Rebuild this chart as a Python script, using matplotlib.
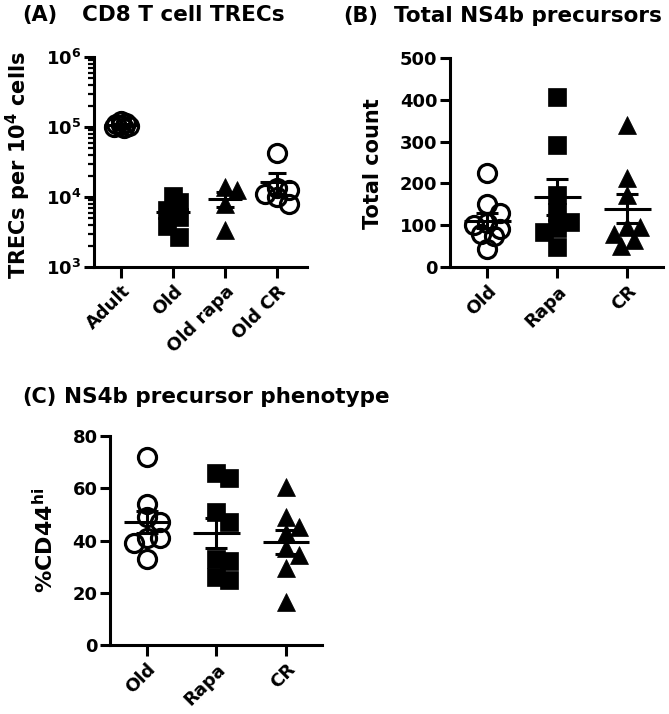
import numpy as np
import matplotlib
matplotlib.use("Agg")
import matplotlib.pyplot as plt
from matplotlib.ticker import LogLocator, NullFormatter, FixedLocator

plt.rcParams['font.family'] = 'DejaVu Sans'
plt.rcParams['font.weight'] = 'bold'
plt.rcParams['mathtext.fontset'] = 'dejavusans'
plt.rcParams['mathtext.default'] = 'bf'

# (A) CD8 T cell TRECs, per 10^4 cells
trec_groups = ["Adult", "Old", "Old rapa", "Old CR"]
trec_adult = [122000, 115000, 110000, 106000, 103000, 100000, 97000]
trec_old = [10500, 8500, 6500, 5200, 3800, 2700]
trec_old_rapa = [14000, 12500, 8000, 3400]
trec_old_cr = [43000, 13500, 12500, 11000, 10000, 8000]

# (B) Total NS4b precursors
ns4b_groups = ["Old", "Rapa", "CR"]
total_old = [225, 150, 128, 105, 100, 90, 80, 75, 42]
total_rapa = [407, 292, 172, 132, 108, 93, 84, 48]
total_cr = [340, 213, 172, 96, 95, 80, 65, 50]

# (C) NS4b precursor phenotype, %CD44hi
cd44_old = [72, 54, 49, 47, 41, 41, 39, 33]
cd44_rapa = [66, 64, 51, 47, 33, 32, 26, 25]
cd44_cr = [60.5, 49, 45, 43, 37, 34.5, 29.5, 16.5]

W, H = 669, 714
LW = 2.2


def px_axes(fig, left, top, right, bottom):
    return fig.add_axes([left / W, 1 - bottom / H, (right - left) / W, (bottom - top) / H])


def swarm(ax, x0, vals, dist_px, max_px):
    # spread points sideways in pixel space, GraphPad style
    ys = [ax.transData.transform((x0, v))[1] for v in vals]
    px_per_x = ax.transData.transform((1, 0))[0] - ax.transData.transform((0, 0))[0]
    step = dist_px / 2.0
    cands = [0.0]
    k = 1
    while k * step <= max_px:
        cands += [k * step, -k * step]
        k += 1
    offs = np.zeros(len(vals))
    placed = []
    for i in np.argsort(ys)[::-1]:
        best, best_d = 0.0, -1
        for c in cands:
            d = min([np.hypot(c - px, ys[i] - py) for px, py in placed], default=1e9)
            if d >= dist_px:
                best = c
                break
            if d > best_d:
                best, best_d = c, d
        offs[i] = best
        placed.append((best, ys[i]))
    return x0 + offs / px_per_x


def mean_sem(ax, x0, vals, w_mean, w_cap):
    m = np.mean(vals)
    s = np.std(vals, ddof=1) / np.sqrt(len(vals))
    ax.hlines(m, x0 - w_mean / 2, x0 + w_mean / 2, color='black', lw=LW, zorder=5)
    ax.vlines(x0, m - s, m + s, color='black', lw=LW, zorder=5)
    ax.hlines([m - s, m + s], x0 - w_cap / 2, x0 + w_cap / 2, color='black', lw=LW, zorder=5)


def style(ax, labels):
    for side in ['top', 'right']:
        ax.spines[side].set_visible(False)
    for side in ['left', 'bottom']:
        ax.spines[side].set_linewidth(LW)
    ax.tick_params(axis='y', which='major', width=LW, length=7, labelsize=13, pad=2)
    ax.tick_params(axis='x', which='major', width=LW, length=8, labelsize=13, pad=3)
    ax.set_xticks(range(len(labels)))
    ax.set_xticklabels(labels, rotation=45, ha='right', rotation_mode='anchor', fontweight='bold')
    for t in ax.get_yticklabels():
        t.set_fontweight('bold')


styles = {
    'circle': dict(marker='o', ms=13, mfc='none', mec='black', mew=2.3),
    'square': dict(marker='s', ms=13.5, mfc='black', mec='black', mew=0.5),
    'triangle': dict(marker='^', ms=13.5, mfc='black', mec='black', mew=0.5),
}

fig = plt.figure(figsize=(W / 100, H / 100), dpi=100)

# ---- panel A
axA = px_axes(fig, 94, 57, 307, 267)
axA.set_yscale('log')
axA.set_ylim(1e3, 1e6)
axA.set_xlim(-0.52, 3.58)
axA.yaxis.set_major_locator(FixedLocator([1e3, 1e4, 1e5, 1e6]))
axA.set_yticklabels([r'$10^3$', r'$10^4$', r'$10^5$', r'$10^6$'])
axA.yaxis.set_minor_locator(LogLocator(base=10, subs=range(2, 10)))
axA.yaxis.set_minor_formatter(NullFormatter())
axA.tick_params(axis='y', which='minor', width=1.6, length=4)
style(axA, trec_groups)
spreadA = [(5, 8), (12, 10), (12, 14), (12, 13)]
for i, (vals, mk) in enumerate(zip([trec_adult, trec_old, trec_old_rapa, trec_old_cr],
                                   ['circle', 'square', 'triangle', 'circle'])):
    xs = swarm(axA, i, vals, *spreadA[i])
    axA.plot(xs, vals, ls='none', zorder=3, **styles[mk])
    mean_sem(axA, i, vals, 0.64, 0.34)

# ---- panel B
axB = px_axes(fig, 450, 58, 663, 267)
axB.set_ylim(0, 500)
axB.set_xlim(-0.53, 2.51)
axB.set_yticks([0, 100, 200, 300, 400, 500])
style(axB, ns4b_groups)
for i, (vals, mk) in enumerate(zip([total_old, total_rapa, total_cr], ['circle', 'square', 'triangle'])):
    xs = swarm(axB, i, vals, 13, 16)
    axB.plot(xs, vals, ls='none', zorder=3, **styles[mk])
    mean_sem(axB, i, vals, 0.67, 0.32)

# ---- panel C
axC = px_axes(fig, 110, 436, 322, 645)
axC.set_ylim(0, 80)
axC.set_xlim(-0.53, 2.52)
axC.set_yticks([0, 20, 40, 60, 80])
style(axC, ns4b_groups)
for i, (vals, mk) in enumerate(zip([cd44_old, cd44_rapa, cd44_cr], ['circle', 'square', 'triangle'])):
    xs = swarm(axC, i, vals, 13, 16)
    axC.plot(xs, vals, ls='none', zorder=3, **styles[mk])
    mean_sem(axC, i, vals, 0.67, 0.32)

# titles and axis labels
def ftext(x, y, s, **kw):
    fig.text(x / W, 1 - y / H, s, fontweight='bold', **kw)

ftext(22, 15, "(A)", fontsize=15, va='center')
ftext(82, 15, "CD8 T cell TRECs", fontsize=15.5, va='center')
ftext(343, 16, "(B)", fontsize=15, va='center')
ftext(394, 16, "Total NS4b precursors", fontsize=15.5, va='center')
ftext(22, 397, "(C)", fontsize=15, va='center')
ftext(64, 397, "NS4b precursor phenotype", fontsize=15.5, va='center')

ftext(18, 165, r"TRECs per 10$^4$ cells", fontsize=15, rotation=90, ha='center', va='center')
ftext(373, 164, "Total count", fontsize=15, rotation=90, ha='center', va='center')
ftext(45, 540, r"%CD44$^{hi}$", fontsize=16, rotation=90, ha='center', va='center')

fig.savefig("out.png", dpi=100)
